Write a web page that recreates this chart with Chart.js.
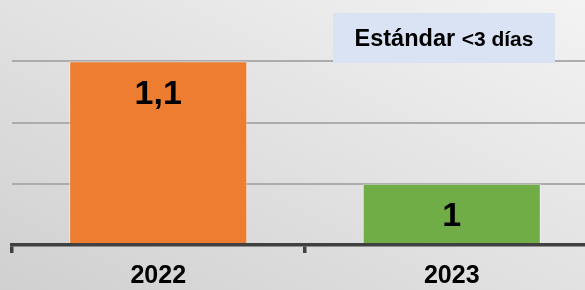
<!DOCTYPE html>
<html>
<head>
<meta charset="utf-8">
<script src="https://cdn.jsdelivr.net/npm/chart.js@4/dist/chart.umd.min.js"></script>
<style>
  html, body { margin: 0; padding: 0; overflow: hidden; }
  body {
    width: 585px; height: 290px;
    background: linear-gradient(to bottom left, #f3f3f3 0%, #e0e0e0 55%, #d0d0d0 100%);
  }
  #wrap { position: absolute; left: 0; top: 0; width: 600px; height: 290px; }
</style>
</head>
<body>
<div id="wrap"><canvas id="chart" width="600" height="290"></canvas></div>
<script>
const years = ["2022", "2023"];
const values = [1.1, 1.0];
const barColors = ["#ed7d31", "#70ad47"];
const seriesName = "Estándar";
const seriesNote = "<3 días";
const yTicks = { min: 0.95, max: 1.15, step: 0.05 };

const FONT = "'Liberation Sans', Arial, sans-serif";

// etiquetas dentro de las barras
const valueLabels = {
  id: "valueLabels",
  afterDatasetsDraw(chart) {
    const ctx = chart.ctx;
    const meta = chart.getDatasetMeta(0);
    ctx.save();
    ctx.font = "bold 34px " + FONT;
    ctx.fillStyle = "#000";
    ctx.textAlign = "center";
    ctx.textBaseline = "middle";
    meta.data.forEach((bar, i) => {
      const txt = String(values[i]).replace(".", ",");
      ctx.fillText(txt, bar.x, bar.y + 33);
    });
    ctx.restore();
  }
};

// cuadro de texto (leyenda)
const legendBox = {
  id: "legendBox",
  afterDraw(chart) {
    const ctx = chart.ctx;
    ctx.save();
    ctx.fillStyle = "#dae3f3";
    ctx.fillRect(333, 13, 222, 50);
    ctx.fillStyle = "#000";
    ctx.textBaseline = "alphabetic";
    ctx.font = "bold 23.5px " + FONT;
    const w1 = ctx.measureText(seriesName + " ").width;
    ctx.font = "bold 21px " + FONT;
    const w2 = ctx.measureText(seriesNote).width;
    let x = 333 + 111 - (w1 + w2) / 2;
    ctx.font = "bold 23.5px " + FONT;
    ctx.fillText(seriesName + " ", x, 46);
    ctx.font = "bold 21px " + FONT;
    ctx.fillText(seriesNote, x + w1, 46);
    ctx.restore();
  }
};

new Chart(document.getElementById("chart"), {
  type: "bar",
  data: {
    labels: years,
    datasets: [{
      label: seriesName,
      data: values,
      backgroundColor: barColors,
      borderColor: "rgba(255,255,255,0.45)",
      borderWidth: 1,
      categoryPercentage: 1,
      barPercentage: 0.607
    }]
  },
  options: {
    responsive: false,
    animation: false,
    layout: { padding: { left: 11.5, right: 1.5, top: -1, bottom: 0 } },
    plugins: {
      legend: { display: false },
      tooltip: { enabled: false }
    },
    scales: {
      x: {
        afterFit(scale) { scale.height = 45; },
        grid: {
          offset: true,
          drawOnChartArea: false,
          tickLength: 8,
          lineWidth: 3.5,
          color: "#404040"
        },
        border: { display: true, color: "#404040", width: 3.5, z: 1 },
        ticks: {
          color: "#000",
          font: { family: FONT, size: 25, weight: "bold" },
          padding: 8
        }
      },
      y: {
        min: yTicks.min,
        max: yTicks.max,
        afterFit(scale) { scale.width = 0; },
        border: { display: false },
        grid: {
          drawTicks: false,
          lineWidth: 2,
          color: c => (c.tick && (c.tick.value <= yTicks.min + 1e-6 || c.tick.value >= yTicks.max - 1e-6)) ? "transparent" : "#acacac"
        },
        ticks: { display: false, stepSize: yTicks.step }
      }
    }
  },
  plugins: [valueLabels, legendBox]
});
</script>
</body>
</html>
